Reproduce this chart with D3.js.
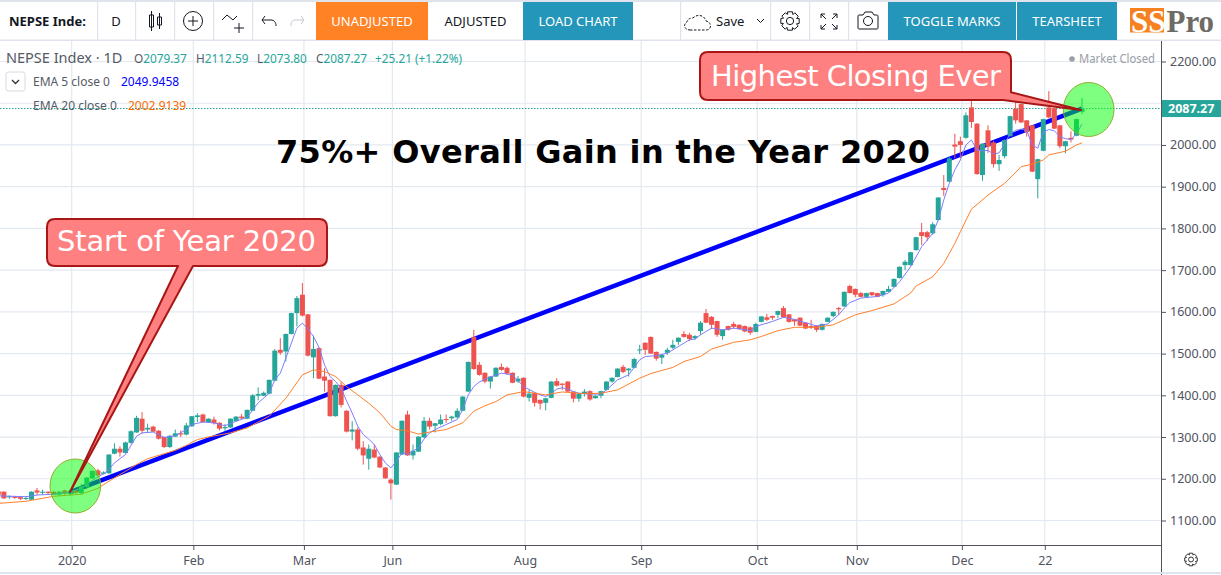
<!DOCTYPE html>
<html>
<head>
<meta charset="utf-8">
<title>NEPSE Index</title>
<script src="https://cdn.jsdelivr.net/npm/d3@7"></script>
<style>
    html, body { margin: 0; padding: 0; background: #fff; overflow: hidden; }
    text { font-family: "Noto Sans", sans-serif; }
</style>
</head>
<body>
<div id="chart"></div>
<script>
// DATA, daily candles, index 0 is the left edge
const opens = [
    1170,1169,1156,1157,1156,1152,1150,1172,1167,1169,1169,1162,1172,1163,1172,1166,1180,1201,1220,1212,
    1213,1260,1272,1262,1286,1311,1344,1318,1325,1315,1300,1276,1301,1309,1306,1326,1348,1354,1336,1342,
    1334,1321,1323,1338,1349,1344,1363,1399,1399,1404,1435,1509,1505,1547,1597,1641,1594,1491,1513,1445,
    1437,1350,1425,1363,1313,1318,1275,1248,1270,1253,1227,1198,1186,1258,1354,1256,1265,1299,1339,1327,
    1331,1343,1345,1347,1363,1409,1540,1473,1454,1433,1445,1468,1466,1454,1433,1442,1394,1406,1389,1382,
    1394,1434,1428,1433,1409,1392,1404,1410,1393,1399,1413,1433,1444,1468,1460,1466,1508,1526,1540,1504,
    1490,1502,1514,1528,1547,1545,1537,1554,1597,1588,1578,1542,1566,1571,1569,1566,1563,1552,1576,1587,
    1590,1593,1609,1594,1582,1586,1574,1566,1567,1557,1576,1590,1609,1613,1662,1655,1645,1636,1647,1645,
    1640,1648,1660,1681,1712,1712,1748,1791,1791,1788,1820,1897,1912,2001,2009,2017,2090,2051,1928,2035,
    2006,1954,1973,2021,2087,2098,2059,2047,1918,1986,2090,2088,2047,1997,2017,2022,2079.37
];
const highs = [
    1172,1170,1160,1159,1158,1158,1170,1178,1174,1170,1170,1170,1174,1173,1173,1188,1204,1220,1224,1218,
    1259,1285,1278,1289,1316,1351,1360,1332,1327,1317,1301,1305,1318,1316,1334,1350,1357,1356,1345,1349,
    1336,1331,1345,1350,1355,1366,1403,1419,1409,1438,1511,1537,1548,1598,1638,1669,1595,1543,1515,1465,
    1438,1426,1433,1364,1338,1323,1290,1282,1282,1254,1228,1201,1264,1340,1363,1282,1302,1348,1346,1334,
    1354,1354,1351,1369,1398,1481,1557,1480,1455,1446,1467,1476,1469,1455,1446,1443,1413,1407,1390,1394,
    1434,1441,1429,1434,1410,1405,1415,1412,1400,1411,1434,1443,1465,1473,1465,1490,1521,1527,1541,1505,
    1498,1514,1533,1539,1554,1550,1544,1578,1607,1590,1579,1558,1567,1576,1570,1567,1565,1574,1590,1595,
    1591,1603,1614,1595,1583,1587,1575,1581,1568,1572,1587,1601,1612,1649,1665,1656,1648,1646,1648,1646,
    1651,1662,1680,1709,1724,1744,1780,1813,1794,1815,1875,1928,1972,2027,2020,2078,2119,2052,2004,2047,
    2010,1976,2013,2070,2103,2099,2060,2048,1967,2063,2129,2089,2048,2010,2033,2063,2112.59
];
const lows = [
    1160,1152,1152,1152,1149,1149,1149,1162,1162,1162,1161,1160,1162,1160,1164,1162,1175,1200,1205,1210,
    1212,1259,1253,1261,1284,1310,1308,1310,1312,1294,1274,1274,1300,1300,1304,1324,1336,1334,1335,1330,
    1316,1315,1322,1337,1343,1343,1362,1388,1398,1403,1434,1497,1481,1546,1565,1589,1493,1441,1439,1409,
    1349,1349,1371,1311,1292,1268,1234,1222,1249,1226,1200,1150,1185,1257,1255,1246,1264,1298,1318,1311,
    1328,1334,1339,1345,1362,1408,1461,1447,1429,1416,1444,1459,1449,1429,1430,1395,1385,1373,1366,1364,
    1393,1421,1413,1408,1383,1385,1397,1387,1392,1393,1412,1430,1443,1453,1445,1465,1499,1497,1499,1483,
    1475,1497,1511,1521,1538,1530,1533,1545,1573,1559,1540,1533,1555,1559,1557,1551,1545,1551,1575,1578,
    1581,1585,1586,1574,1567,1566,1559,1559,1552,1555,1575,1587,1593,1612,1644,1635,1635,1635,1638,1635,
    1636,1647,1659,1680,1700,1711,1747,1760,1770,1785,1819,1878,1911,1968,1968,2015,2041,1929,1914,1981,
    1946,1938,1968,2020,2051,2053,2020,1935,1872,1985,2064,2038,1992,1980,2006,2021,2073.80
];
const closes = [
    1162,1153,1158,1154,1152,1154,1169,1167,1169,1166,1162,1169,1164,1171,1166,1182,1203,1219,1208,1215,
    1258,1272,1263,1287,1314,1346,1315,1322,1313,1296,1276,1303,1309,1306,1328,1350,1352,1336,1344,1333,
    1320,1324,1344,1349,1345,1365,1400,1403,1406,1437,1507,1502,1547,1597,1633,1591,1495,1511,1440,1435,
    1350,1425,1377,1313,1318,1272,1256,1272,1251,1227,1201,1189,1263,1339,1256,1267,1301,1339,1325,1333,
    1342,1341,1349,1363,1397,1480,1463,1449,1433,1445,1466,1461,1452,1430,1440,1397,1404,1382,1380,1393,
    1433,1423,1425,1409,1392,1404,1409,1390,1399,1410,1433,1442,1464,1456,1464,1487,1510,1509,1500,1488,
    1497,1509,1521,1538,1540,1535,1542,1574,1574,1569,1545,1557,1557,1564,1559,1553,1550,1571,1589,1581,
    1586,1602,1587,1576,1577,1567,1560,1562,1557,1571,1586,1600,1606,1648,1645,1641,1636,1645,1640,1636,
    1650,1655,1679,1708,1720,1743,1779,1782,1779,1810,1874,1892,1968,1996,2000,2071,2055,1930,2003,1996,
    1954,1964,2012,2069,2059,2054,2031,1936,1966,2062,2066,2039,1997,2009,2013,2062,2087.27
];

const ema5Idx = [
    0,5,7,10,13,15,17,19,20,21,23,24,25,26,28,30,32,34,35,37,39,41,43,45,47,49,50,51,52,53,54,55,56,57,58,59,60,61,62,63,
    64,65,66,67,68,69,70,71,72,73,74,75,76,77,78,79,81,83,84,85,86,87,89,91,93,95,97,98,99,100,101,102,103,104,105,107,109,
    110,112,114,116,117,119,121,123,125,126,127,129,131,133,136,137,140,142,144,146,148,150,152,153,154,156,159,161,163,165,
    167,169,170,171,172,173,174,175,176,177,178,179,180,181,182,183,184,185,186,187,188,189,190,191,192,193,194,195,196
];
const ema5Vals = [
    1159,1157,1161,1163,1168,1178,1196,1212,1222,1238,1258,1280,1302,1310,1312,1299,1303,1318,1330,1336,1334,1327,1338,1347,1382,1405,1437,1453,1489,1525,1561,1573,1559,1541,1515,1473,1445,1433,1417,1386,
    1358,1326,1306,1295,1282,1258,1238,1226,1242,1262,1258,1266,1275,1295,1310,1318,1330,1342,1366,1401,1421,1432,1444,1453,1449,1421,1407,1401,1397,1405,1415,1418,1415,1409,1405,1403,1403,
    1413,1437,1449,1485,1493,1495,1501,1517,1533,1535,1545,1561,1557,1561,1555,1565,1577,1587,1582,1574,1566,1571,1593,1609,1622,1633,1637,1645,1672,1708,
    1756,1788,1820,1868,1908,1940,1964,2000,2012,1988,1986,1987,1978,1981,2003,2027,2035,2038,2035,2000,1992,2031,2037,2034,2020,2015,2013,2027,2050
];
const ema20Idx = [
    0,5,10,13,15,18,20,23,25,27,30,32,34,36,38,42,45,49,52,55,57,59,61,63,65,67,69,71,72,74,76,78,81,84,86,88,90,92,95,97,99,
    102,106,109,112,116,118,122,124,127,129,133,136,138,141,144,148,151,153,155,158,162,165,166,169,171,172,173,174,176,179,182,185,187,189,190,193,195,196
];
const ema20Vals = [
    1141,1146,1158,1161,1163,1177,1194,1218,1234,1248,1260,1268,1280,1294,1300,1310,1322,1350,1393,1449,1461,1457,1445,1421,1401,1381,1358,1326,1318,1315,1307,1312,1318,1334,1362,1375,1385,1401,1409,1405,1401,
    1408,1404,1405,1413,1441,1452,1467,1481,1493,1511,1527,1533,1541,1555,1563,1563,1569,1581,1593,1603,1619,1645,1662,1684,1716,1740,1764,1792,1846,1880,1908,1948,1954,1964,1976,1985,2000,2005
];

const priceTicks = [1100, 1200, 1300, 1400, 1500, 1600, 1700, 1800, 1900, 2000, 2100, 2200];
const dateTickIdx = [13, 35, 55, 71, 95, 116, 137, 155, 174, 189];
const dateTickLabels = ["2020", "Feb", "Mar", "Jun", "Aug", "Sep", "Oct", "Nov", "Dec", "22"];

const trendFrom = [13, 1168];
const trendTo = [196, 2087.27];
const lastClose = closes[closes.length - 1];

// LAYOUT
const W = 1221, H = 575;
const plotRight = 1161, plotTop = 41, plotBottom = 545;
const red = "#ef5350", teal = "#26a69a";
const gridColor = "#e3e9f0", axisColor = "#50535e";

const x = d3.scaleLinear().domain([13, 196]).range([70.2, 1082]);
const y = d3.scaleLinear().domain([1100, 2200]).range([520.5, 61.5]);

const svg = d3.select("#chart").append("svg").attr("width", W).attr("height", H).style("display", "block");

// GRID
const gridX = i => x(i) + 1.5;
svg.append("g").selectAll("line").data(priceTicks).enter().append("line")
    .attr("x1", 0).attr("x2", plotRight)
    .attr("y1", d => y(d)).attr("y2", d => y(d))
    .attr("stroke", gridColor).attr("stroke-width", 1.2);
svg.append("g").selectAll("line").data(dateTickIdx).enter().append("line")
    .attr("x1", gridX).attr("x2", gridX)
    .attr("y1", plotTop).attr("y2", plotBottom)
    .attr("stroke", gridColor).attr("stroke-width", 1.2);

// last price dotted line
svg.append("line")
    .attr("x1", 0).attr("x2", plotRight)
    .attr("y1", y(lastClose)).attr("y2", y(lastClose))
    .attr("stroke", teal).attr("stroke-dasharray", "1.5,1.5");

// TREND LINE sits behind the candles
svg.append("line")
    .attr("x1", x(trendFrom[0])).attr("y1", y(trendFrom[1]))
    .attr("x2", x(trendTo[0])).attr("y2", y(trendTo[1]))
    .attr("stroke", "#0000ff").attr("stroke-width", 4.5);

// CANDLES
const candles = svg.append("g").selectAll("g").data(opens).enter().append("g");
candles.append("line")
    .attr("x1", (d, i) => x(i)).attr("x2", (d, i) => x(i))
    .attr("y1", (d, i) => y(highs[i])).attr("y2", (d, i) => y(lows[i]))
    .attr("stroke", (d, i) => closes[i] >= opens[i] ? teal : red)
    .attr("stroke-width", 1);
candles.append("rect")
    .attr("x", (d, i) => x(i) - 2.5).attr("width", 5)
    .attr("y", (d, i) => y(Math.max(opens[i], closes[i])))
    .attr("height", (d, i) => Math.max(1, Math.abs(y(opens[i]) - y(closes[i]))))
    .attr("fill", (d, i) => closes[i] >= opens[i] ? teal : red);

// EMAS
const emaLine = idx => d3.line().x((d, i) => x(idx[i])).y(d => y(d));
svg.append("path").attr("d", emaLine(ema5Idx)(ema5Vals))
    .attr("fill", "none").attr("stroke", "#7d7dff").attr("stroke-width", 1);
svg.append("path").attr("d", emaLine(ema20Idx)(ema20Vals))
    .attr("fill", "none").attr("stroke", "#ff7f2a").attr("stroke-width", 1);

// AXES, the 2100 label is hidden by the last price tag
const priceAxis = d3.axisRight(y).tickValues(priceTicks).tickSize(5).tickPadding(4)
    .tickFormat(d => d === 2100 ? "" : d.toFixed(2));
const gPrice = svg.append("g").attr("transform", `translate(${plotRight},0)`).call(priceAxis);
gPrice.select(".domain").attr("d", `M0.5,${plotTop}V${H}`).attr("stroke", axisColor);
gPrice.selectAll("line").attr("stroke", axisColor);
gPrice.selectAll("text").attr("fill", axisColor).style("font-size", "12.5px").style("font-family", '"Noto Sans", sans-serif');

const dateAxis = d3.axisBottom(d3.scaleLinear().domain(x.domain()).range(x.range().map(v => v + 1.5)))
    .tickValues(dateTickIdx).tickSize(5).tickPadding(6)
    .tickFormat((d, i) => dateTickLabels[i]);
const gDate = svg.append("g").attr("transform", `translate(0,${plotBottom})`).call(dateAxis);
gDate.select(".domain").attr("d", `M0,0.5H${plotRight}`).attr("stroke", axisColor);
gDate.selectAll("line").attr("stroke", axisColor);
gDate.selectAll("text").attr("fill", axisColor).style("font-size", "12.5px").style("font-family", '"Noto Sans", sans-serif');

svg.append("line").attr("x1", 0).attr("x2", W).attr("y1", 573).attr("y2", 573).attr("stroke", "#e0e3eb").attr("stroke-width", 2);

// last price label
svg.append("rect").attr("x", plotRight + 1).attr("y", y(lastClose) - 8.5).attr("width", W - plotRight).attr("height", 17).attr("fill", teal);
svg.append("text").attr("x", 1168).attr("y", y(lastClose) + 4.5)
    .attr("fill", "#fff").attr("font-weight", 700).attr("font-size", 12.5).text(lastClose.toFixed(2));

// gear at the corner of the axes
drawGear(1191, 559.5, 6.5, "#333");

// HEADER LEGEND
function legend(xPos, yPos, parts, size) {
    const t = svg.append("text").attr("x", xPos).attr("y", yPos).attr("font-size", size);
    parts.forEach(p => t.append("tspan").attr("fill", p[1]).text(p[0]));
}
const gray = "#555a66";
legend(6, 63, [["NEPSE Index · 1D", gray]], 14.5);
legend(134, 63, [["O", gray], ["2079.37", teal]], 11.8);
legend(196, 63, [["H", gray], ["2112.59", teal]], 11.8);
legend(257, 63, [["L", gray], ["2073.80", teal]], 11.8);
legend(316, 63, [["C", gray], ["2087.27", teal]], 11.8);
legend(375, 63, [["+25.21 (+1.22%)", teal]], 11.8);
legend(33, 86, [["EMA 5 close 0", gray]], 12);
legend(121, 86, [["2049.9458", "#0000ff"]], 12);
legend(33, 110, [["EMA 20 close 0", gray]], 12);
legend(128, 110, [["2002.9139", "#ff6a00"]], 12);
svg.append("rect").attr("x", 6).attr("y", 72).attr("width", 19).attr("height", 19).attr("rx", 2.5).attr("fill", "#fff").attr("stroke", "#d6dae3");
svg.append("path").attr("d", "M12,80 L15.5,83.5 L19,80").attr("fill", "none").attr("stroke", "#333").attr("stroke-width", 1.3);
svg.append("circle").attr("cx", 1072).attr("cy", 59).attr("r", 2.8).attr("fill", "#9a9ea8");
svg.append("text").attr("x", 1079).attr("y", 63).attr("font-size", 12).attr("fill", "#9a9ea8")
    .attr("textLength", 76).attr("lengthAdjust", "spacingAndGlyphs").text("Market Closed");

// TOOLBAR
const sepColor = "#e0e3eb";
svg.append("rect").attr("x", 0).attr("y", 0).attr("width", W).attr("height", 2).attr("fill", sepColor);
svg.append("rect").attr("x", 0).attr("y", 39.5).attr("width", W).attr("height", 1.5).attr("fill", sepColor);
[97, 135, 174, 213, 252, 680, 770, 809, 848].forEach(s => {
    svg.append("rect").attr("x", s).attr("y", 2).attr("width", 1.2).attr("height", 38).attr("fill", sepColor);
});
function toolButton(x0, x1, fill, color, label) {
    if (fill) svg.append("rect").attr("x", x0).attr("y", 2).attr("width", x1 - x0).attr("height", 38).attr("fill", fill);
    svg.append("text").attr("x", (x0 + x1) / 2).attr("y", 26).attr("text-anchor", "middle")
        .attr("font-size", 13).attr("fill", color).text(label);
}
svg.append("text").attr("x", 9).attr("y", 26).attr("font-size", 13).attr("font-weight", 700).attr("fill", "#131722").text("NEPSE Inde:");
toolButton(97, 135, null, "#131722", "D");
toolButton(316, 428, "#ff8224", "#fff", "UNADJUSTED");
toolButton(428, 523, null, "#131722", "ADJUSTED");
toolButton(523, 633, "#2496b9", "#fff", "LOAD CHART");
toolButton(888, 1016, "#2496b9", "#fff", "TOGGLE MARKS");
toolButton(1017, 1117, "#2496b9", "#fff", "TEARSHEET");

// toolbar icons
const icons = svg.append("g").attr("fill", "none").attr("stroke", "#131722").attr("stroke-width", 1);
icons.append("path").attr("d", "M151.5,11V31M149.5,15h4v12h-4zM159.5,13V29M157.5,17h4v8h-4z");
icons.append("circle").attr("cx", 193).attr("cy", 21).attr("r", 9.5);
icons.append("path").attr("d", "M188,21h10M193,16v10");
icons.append("path").attr("d", "M222,20l5,-5l6,5l4,-4M239,23v10M234,28h10");
icons.append("path").attr("d", "M265,16l-3,4l3,4M262,20h9c3,0 5,2 5,6");
icons.append("path").attr("stroke", "#c4c8d0").attr("d", "M301,16l3,4l-3,4M304,20h-9c-3,0 -4,2 -4,6");
icons.append("path").attr("stroke-dasharray", "2.5,1.5").attr("d", "M690,30h16c6,0 6,-8 0,-9c-1,-5 -8,-8 -13,-3c-4,0 -6,2 -6,4c-4,2 -3,8 3,8z");
svg.append("text").attr("x", 716).attr("y", 26).attr("font-size", 13).attr("fill", "#131722").text("Save");
icons.append("path").attr("d", "M757,19l3.5,3.5l3.5,-3.5");
drawGear(790, 21, 9.5, "#131722");
icons.append("path").attr("d", "M821,14h4M821,14v4M821,14l5,5M837,14h-4M837,14v4M837,14l-5,5M821,29h4M821,29v-4M821,29l5,-5M837,29h-4M837,29v-4M837,29l-5,-5");
icons.append("path").attr("d", "M859,15h4l2,-3h7l2,3h3c1,0 1,1 1,1v12c0,1 -1,1 -1,1h-18c-1,0 -1,-1 -1,-1v-12c0,0 0,-1 1,-1z");
icons.append("circle").attr("cx", 868).attr("cy", 21).attr("r", 4.5);

// logo, white letters on an orange block
svg.append("rect").attr("x", 1130).attr("y", 8).attr("width", 34).attr("height", 24.5).attr("fill", "#f5821f");
const logo = svg.append("text").attr("x", 1131).attr("y", 32).attr("font-size", 31).attr("font-weight", 700)
    .style("font-family", '"Liberation Serif", serif');
logo.append("tspan").attr("fill", "#fff").text("SS");
logo.append("tspan").attr("fill", "#6e6a64").attr("dx", 1).text("Pro");

function drawGear(cx, cy, r, color) {
    const teeth = d3.range(8).map(k => k * Math.PI / 4);
    const g = svg.append("g").attr("fill", "none").attr("stroke", color).attr("stroke-width", 1);
    const pts = [];
    teeth.forEach(a => {
        [-0.26, 0.26].forEach(o => pts.push([cx + r * Math.cos(a + o), cy + r * Math.sin(a + o)]));
        [0.44].forEach(o => pts.push([cx + r * 0.74 * Math.cos(a + o), cy + r * 0.74 * Math.sin(a + o)]));
    });
    g.append("path").attr("d", d3.line()(pts) + "Z");
    g.append("circle").attr("cx", cx).attr("cy", cy).attr("r", r * 0.38);
}

// ANNOTATIONS, circles go over the candles
const circles = [[75.3, 486], [1088.7, 109.5]];
svg.append("g").selectAll("ellipse").data(circles).enter().append("ellipse")
    .attr("cx", d => d[0]).attr("cy", d => d[1]).attr("rx", 25.3).attr("ry", 27)
    .attr("fill", "#00ff00").attr("fill-opacity", 0.5)
    .attr("stroke", "#8fae2e").attr("stroke-width", 1);

svg.append("text").attr("x", 276).attr("y", 163).attr("font-size", 32).attr("font-weight", 700)
    .attr("fill", "#000").style("font-family", '"DejaVu Sans", sans-serif')
    .attr("textLength", 654).text("75%+ Overall Gain in the Year 2020");

function callout(d, label, tx, ty, len) {
    svg.append("path").attr("d", d)
        .attr("fill", "#ff8080").attr("stroke", "#a81616").attr("stroke-width", 2).attr("stroke-linejoin", "round");
    svg.append("text").attr("x", tx).attr("y", ty).attr("font-size", 29)
        .attr("fill", "#fff").style("font-family", '"DejaVu Sans", sans-serif')
        .attr("textLength", len).text(label);
}
callout("M55,219 H319 Q327,219 327,227 V258 Q327,266 319,266 H193 L70,492 L178,266 H55 Q47,266 47,258 V227 Q47,219 55,219 Z",
    "Start of Year 2020", 57, 251, 259);
callout("M708,52 H1003 Q1011,52 1011,60 V92.3 L1081,110 L1003,100 H708 Q700,100 700,92 V60 Q700,52 708,52 Z",
    "Highest Closing Ever", 711, 86, 290);
</script>
</body>
</html>
